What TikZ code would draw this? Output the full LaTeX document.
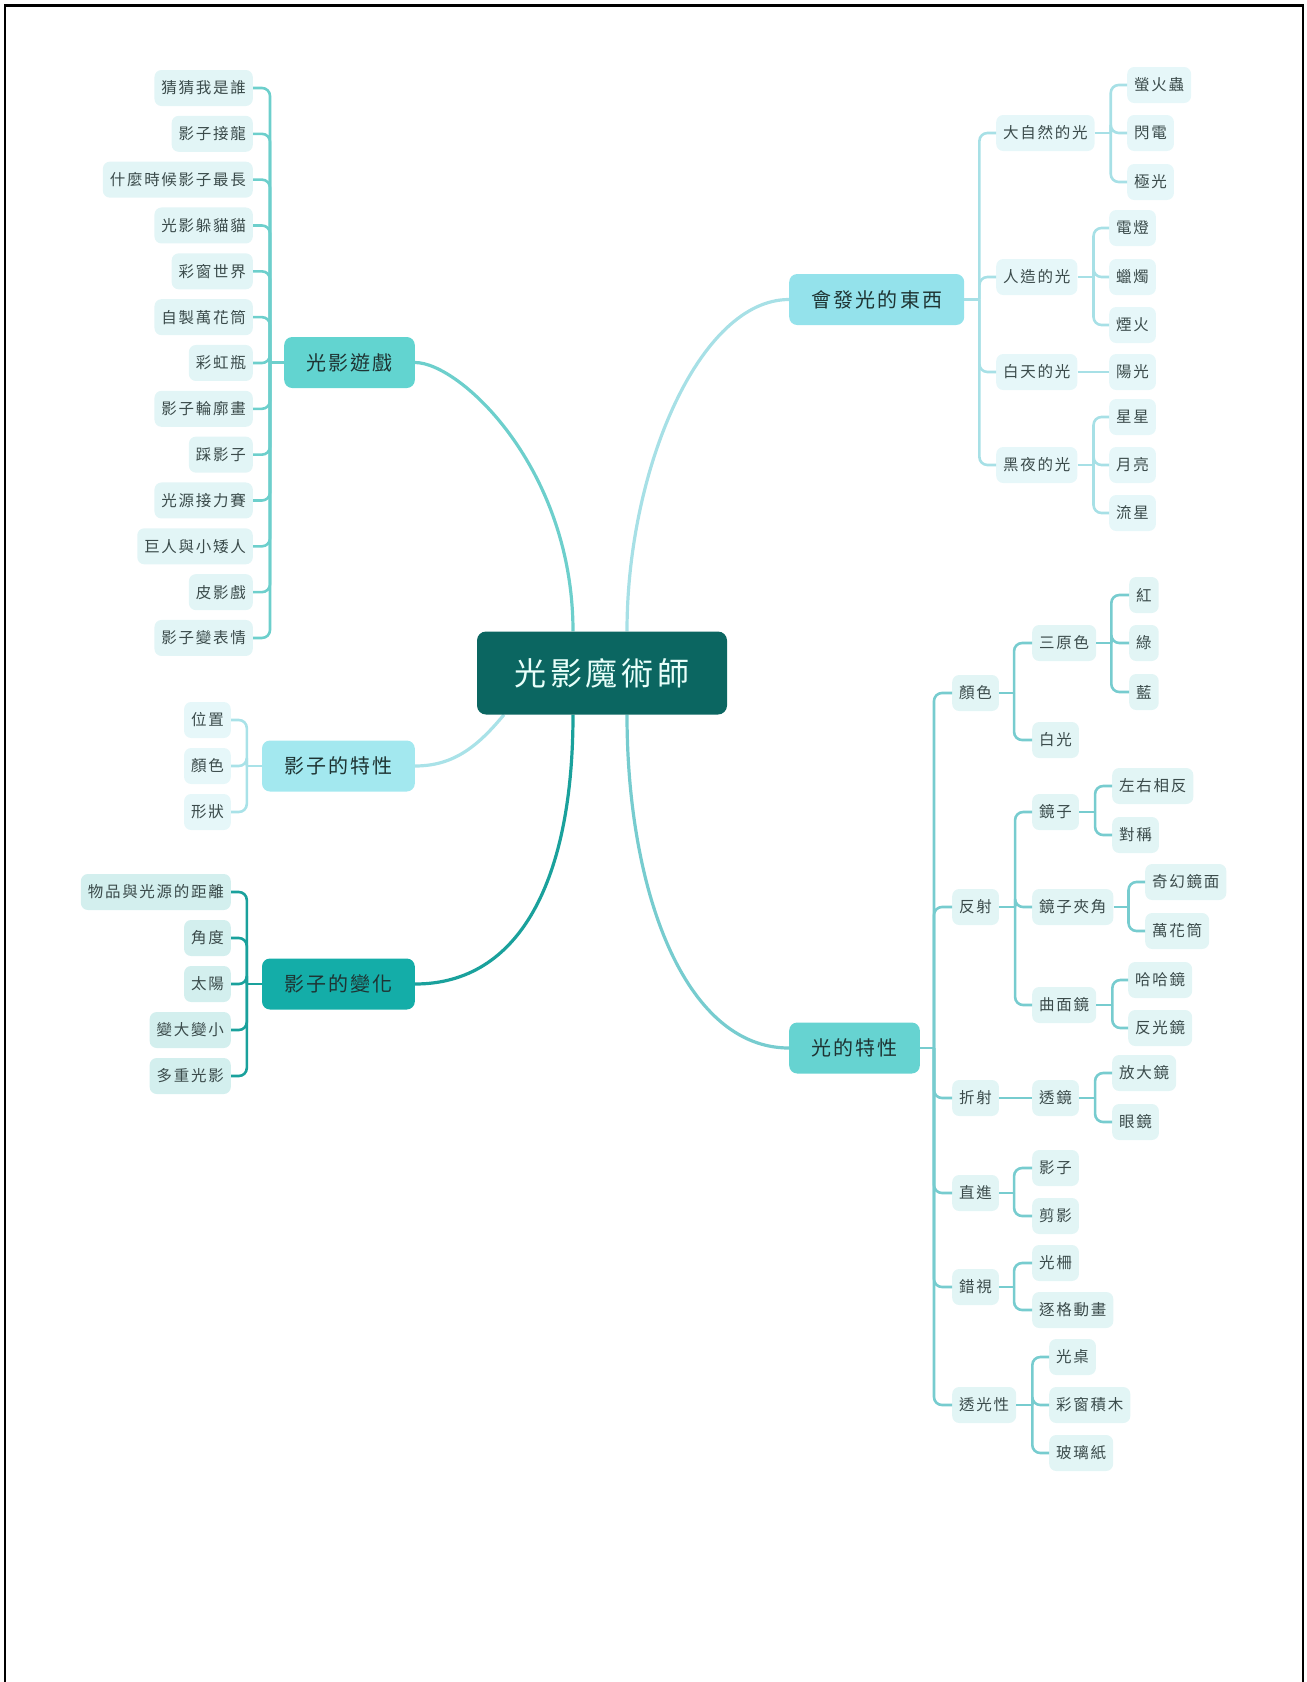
\documentclass[tikz,border=0pt]{standalone}
\usepackage{fontspec}
\newfontfamily\cjk{Noto Sans CJK TC}[LetterSpace=11]
\usetikzlibrary{backgrounds}

% colours
\definecolor{hubfill}{HTML}{0B6661}
\definecolor{hubtext}{HTML}{E8FFFA}
\definecolor{topictext}{HTML}{1E3433}
\definecolor{leaftext}{HTML}{3B4B4B}
\definecolor{gamefill}{HTML}{62D4D0}
\definecolor{gameleaf}{HTML}{E2F5F6}
\definecolor{gameline}{HTML}{6DCFCC}
\definecolor{propfill}{HTML}{A3E8EF}
\definecolor{propleaf}{HTML}{E6F7F9}
\definecolor{propline}{HTML}{A9E2E8}
\definecolor{chgfill}{HTML}{14ADA8}
\definecolor{chgleaf}{HTML}{D3EFEE}
\definecolor{chgline}{HTML}{1AA19C}
\definecolor{glowfill}{HTML}{94E2EB}
\definecolor{glowleaf}{HTML}{E6F7F9}
\definecolor{glowline}{HTML}{A7E0E6}
\definecolor{lightfill}{HTML}{66D3D1}
\definecolor{lightleaf}{HTML}{E2F5F5}
\definecolor{lightline}{HTML}{77CCCF}

\tikzset{
  hubbox/.style={fill=hubfill, text=hubtext, rounded corners=9pt,
    minimum width=250pt, minimum height=83pt, font=\cjk\fontsize{32}{36}\selectfont},
  topic/.style={rounded corners=8pt, inner xsep=22pt, minimum height=51pt,
    text=topictext, font=\cjk\fontsize{20}{24}\selectfont},
  leaf/.style={rounded corners=7pt, inner xsep=7pt, minimum height=36pt,
    text=leaftext, font=\cjk\fontsize{15.5}{18}\selectfont},
  conn/.style={line width=2.6pt},
  branch/.style={line width=3.2pt},
}

\begin{document}
\begin{tikzpicture}[x=1pt,y=-1pt]

  \useasboundingbox (0,0) rectangle (1307,1682);

  % page frame (open at the bottom)
  \draw[line width=3pt] (4,5) -- (1304,5);
  \draw[line width=1.6pt] (5,5) -- (5,1682);
  \draw[line width=1.6pt] (1303,5) -- (1303,1682);

  % the central topic
  \node[hubbox] (hub) at (602,673) {光影魔術師};

  % main topics
  \node[topic, fill=gamefill, anchor=east] (game) at (415,362.5) {光影遊戲};
  \node[topic, fill=propfill, anchor=east] (prop) at (415,766) {影子的特性};
  \node[topic, fill=chgfill, anchor=east] (chg) at (415,984) {影子的變化};
  \node[topic, fill=glowfill, anchor=west] (glow) at (789,299.5) {會發光的東西};
  \node[topic, fill=lightfill, anchor=west] (light) at (789,1048) {光的特性};

  % curves from the centre to the main topics
  \begin{scope}[on background layer]
    \draw[branch, gameline] (game.east) .. controls +(45,0) and +(0,-163) .. ([xshift=-29pt]hub.north);
    \draw[branch, glowline] ([xshift=25pt]hub.north) .. controls +(0,-163) and +(-89,0) .. (glow.west);
    \draw[branch, propline] (prop.east) .. controls +(40,0) and +(-25,30) .. ([xshift=-98pt]hub.south);
    \draw[branch, chgline] ([xshift=-29pt]hub.south) .. controls +(0,165) and +(105,0) .. (chg.east);
    \draw[branch, lightline] ([xshift=25pt]hub.south) .. controls +(0,175) and +(-105,0) .. (light.west);
  \end{scope}

  % ---- left side: games
  \foreach \t [count=\i] in {猜猜我是誰,影子接龍,什麼時候影子最長,光影躲貓貓,彩窗世界,自製萬花筒,彩虹瓶,影子輪廓畫,踩影子,光源接力賽,巨人與小矮人,皮影戲,影子變表情}
    \node[leaf, fill=gameleaf, anchor=east] (g\i) at (253,{42.17+45.83*\i}) {\t};
  \draw[conn, gameline] (game.west) -- ++(-14,0) coordinate (game-j);
  \foreach \i in {1,...,13}
    \draw[conn, gameline, rounded corners=8pt] (game-j) |- (g\i.east);

  % ---- left side: what a shadow is like
  \foreach \t [count=\i] in {位置,顏色,形狀}
    \node[leaf, fill=propleaf, anchor=east] (p\i) at (231,{674+46*\i}) {\t};
  \draw[conn, propline] (prop.west) -- ++(-15,0) coordinate (prop-j);
  \foreach \i in {1,2,3}
    \draw[conn, propline, rounded corners=8pt] (prop-j) |- (p\i.east);

  % ---- left side: how a shadow changes
  \foreach \t [count=\i] in {物品與光源的距離,角度,太陽,變大變小,多重光影}
    \node[leaf, fill=chgleaf, anchor=east] (c\i) at (231,{846+46*\i}) {\t};
  \draw[conn, chgline] (chg.west) -- ++(-15,0) coordinate (chg-j);
  \foreach \i in {1,...,5}
    \draw[conn, chgline, rounded corners=8pt] (chg-j) |- (c\i.east);

  % ---- right side: things that glow
  \begin{scope}[every node/.style={leaf, fill=glowleaf, anchor=west}]
    \node (nature) at (996,133) {大自然的光};
    \node (artif) at (996,277) {人造的光};
    \node (day) at (996,372) {白天的光};
    \node (night) at (996,465) {黑夜的光};
    \node (firefly) at (1127,85) {螢火蟲};
    \node (bolt) at (1127,133) {閃電};
    \node (aurora) at (1127,182) {極光};
    \node (lamp) at (1109,228) {電燈};
    \node (candle) at (1109,277) {蠟燭};
    \node (firework) at (1109,325) {煙火};
    \node (sun) at (1109,372) {陽光};
    \node (stars) at (1109,417) {星星};
    \node (moon) at (1109,465) {月亮};
    \node (meteor) at (1109,513) {流星};
  \end{scope}

  \draw[conn, glowline] (glow.east) -- ++(15,0) coordinate (glow-j);
  \foreach \c in {nature,artif,day,night}
    \draw[conn, glowline, rounded corners=8pt] (glow-j) |- (\c.west);
  \draw[conn, glowline] (nature.east) -- ++(16,0) coordinate (nature-j);
  \foreach \c in {firefly,bolt,aurora}
    \draw[conn, glowline, rounded corners=8pt] (nature-j) |- (\c.west);
  \draw[conn, glowline] (artif.east) -- ++(16,0) coordinate (artif-j);
  \foreach \c in {lamp,candle,firework}
    \draw[conn, glowline, rounded corners=8pt] (artif-j) |- (\c.west);
  \draw[conn, glowline] (day.east) -- (sun.west);
  \draw[conn, glowline] (night.east) -- ++(16,0) coordinate (night-j);
  \foreach \c in {stars,moon,meteor}
    \draw[conn, glowline, rounded corners=8pt] (night-j) |- (\c.west);

  % ---- right side: what light does
  \begin{scope}[every node/.style={leaf, fill=lightleaf, anchor=west}]
    \node (color) at (952,693) {顏色};
    \node (refl) at (952,907) {反射};
    \node (refr) at (952,1098) {折射};
    \node (straight) at (952,1193) {直進};
    \node (illus) at (952,1287) {錯視};
    \node (transl) at (952,1405) {透光性};
    % colour
    \node (rgb) at (1032,643) {三原色};
    \node (white) at (1032,740) {白光};
    \node (red) at (1129,595) {紅};
    \node (green) at (1129,643) {綠};
    \node (blue) at (1129,692) {藍};
    % reflection
    \node (mirror) at (1032,812) {鏡子};
    \node (angle) at (1032,907) {鏡子夾角};
    \node (curved) at (1032,1005) {曲面鏡};
    \node (flip) at (1112,786) {左右相反};
    \node (sym) at (1112,835) {對稱};
    \node (magic) at (1145,882) {奇幻鏡面};
    \node (kaleido) at (1145,931) {萬花筒};
    \node (funhouse) at (1128,980) {哈哈鏡};
    \node (reflector) at (1128,1028) {反光鏡};
    % refraction
    \node (lens) at (1032,1098) {透鏡};
    \node (magnifier) at (1112,1073) {放大鏡};
    \node (glasses) at (1112,1122) {眼鏡};
    % straight lines
    \node (shadow) at (1032,1168) {影子};
    \node (silhouette) at (1032,1216) {剪影};
    % illusions
    \node (grating) at (1032,1263) {光柵};
    \node (stopmotion) at (1032,1310) {逐格動畫};
    % translucency
    \node (lighttable) at (1049,1357) {光桌};
    \node (blocks) at (1049,1405) {彩窗積木};
    \node (cellophane) at (1049,1453) {玻璃紙};
  \end{scope}

  \draw[conn, lightline] (light.east) -- ++(14,0) coordinate (light-j);
  \foreach \c in {color,refl,refr,straight,illus,transl}
    \draw[conn, lightline, rounded corners=8pt] (light-j) |- (\c.west);
  \draw[conn, lightline] (color.east) -- ++(15,0) coordinate (color-j);
  \foreach \c in {rgb,white}
    \draw[conn, lightline, rounded corners=8pt] (color-j) |- (\c.west);
  \draw[conn, lightline] (rgb.east) -- ++(15,0) coordinate (rgb-j);
  \foreach \c in {red,green,blue}
    \draw[conn, lightline, rounded corners=8pt] (rgb-j) |- (\c.west);
  \draw[conn, lightline] (refl.east) -- ++(16,0) coordinate (refl-j);
  \foreach \c in {mirror,angle,curved}
    \draw[conn, lightline, rounded corners=8pt] (refl-j) |- (\c.west);
  \draw[conn, lightline] (mirror.east) -- ++(16,0) coordinate (mirror-j);
  \foreach \c in {flip,sym}
    \draw[conn, lightline, rounded corners=8pt] (mirror-j) |- (\c.west);
  \draw[conn, lightline] (angle.east) -- ++(15,0) coordinate (angle-j);
  \foreach \c in {magic,kaleido}
    \draw[conn, lightline, rounded corners=8pt] (angle-j) |- (\c.west);
  \draw[conn, lightline] (curved.east) -- ++(16,0) coordinate (curved-j);
  \foreach \c in {funhouse,reflector}
    \draw[conn, lightline, rounded corners=8pt] (curved-j) |- (\c.west);
  \draw[conn, lightline] (refr.east) -- (lens.west);
  \draw[conn, lightline] (lens.east) -- ++(16,0) coordinate (lens-j);
  \foreach \c in {magnifier,glasses}
    \draw[conn, lightline, rounded corners=8pt] (lens-j) |- (\c.west);
  \draw[conn, lightline] (straight.east) -- ++(15,0) coordinate (straight-j);
  \foreach \c in {shadow,silhouette}
    \draw[conn, lightline, rounded corners=8pt] (straight-j) |- (\c.west);
  \draw[conn, lightline] (illus.east) -- ++(15,0) coordinate (illus-j);
  \foreach \c in {grating,stopmotion}
    \draw[conn, lightline, rounded corners=8pt] (illus-j) |- (\c.west);
  \draw[conn, lightline] (transl.east) -- ++(16,0) coordinate (transl-j);
  \foreach \c in {lighttable,blocks,cellophane}
    \draw[conn, lightline, rounded corners=8pt] (transl-j) |- (\c.west);

\end{tikzpicture}
\end{document}
